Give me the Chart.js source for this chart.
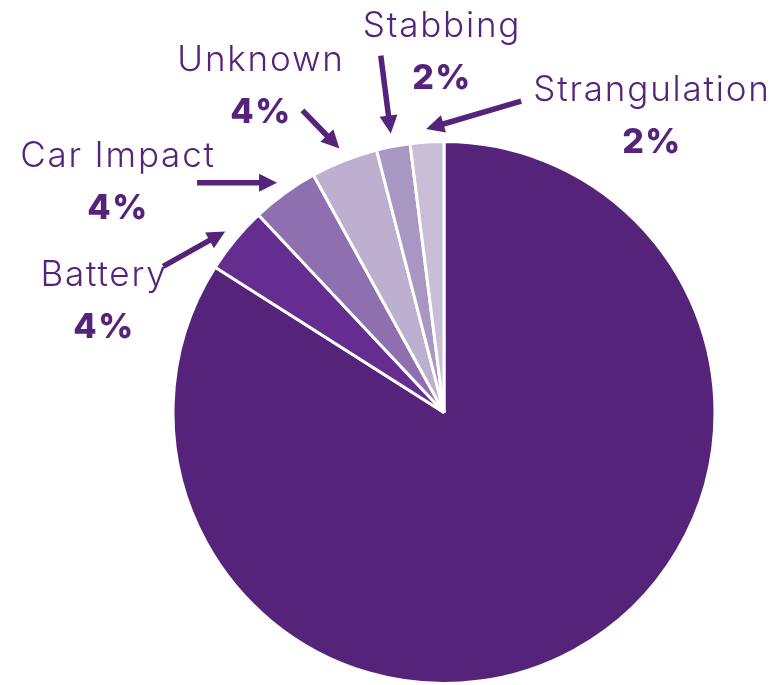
<!DOCTYPE html>
<html>
<head>
<meta charset="utf-8">
<script src="https://cdn.jsdelivr.net/npm/chart.js@4.4.1/dist/chart.umd.min.js"></script>
<style>
  html, body { margin: 0; padding: 0; background: #ffffff; }
  #wrap { width: 772px; height: 685px; }
</style>
</head>
<body>
<div id="wrap"><canvas id="chart"></canvas></div>
<script>
// chart data
var categories = ['Other', 'Battery', 'Car Impact', 'Unknown', 'Stabbing', 'Strangulation'];
var values = [84, 4, 4, 4, 2, 2];
var sliceColors = ['#56237a', '#662d91', '#8e6faf', '#bdafd0', '#a997c3', '#c9bdd8'];

// where the callouts go (offsets from the pie centre), and arrow tails (from tip)
var calloutLayout = {
    'Battery':       { text: [-341, -137], tail: [-62, 35] },
    'Car Impact':    { text: [-327, -256], tail: [-80, 0] },
    'Unknown':       { text: [-184, -352], tail: [-37, -38] },
    'Stabbing':      { text: [-3, -386],   tail: [-10, -78] },
    'Strangulation': { text: [207, -322],  tail: [95, -28] }
};

var textColor = '#56237a';

function drawArrow(ctx, x1, y1, x2, y2) {
    var ang = Math.atan2(y2 - y1, x2 - x1);
    var head = 18, half = 9;
    var bx = x2 - head * Math.cos(ang), by = y2 - head * Math.sin(ang);
    ctx.beginPath();
    ctx.moveTo(x1, y1);
    ctx.lineTo(bx + 1 * Math.cos(ang), by + 1 * Math.sin(ang));
    ctx.stroke();
    ctx.beginPath();
    ctx.moveTo(x2, y2);
    ctx.lineTo(bx + half * Math.sin(ang), by - half * Math.cos(ang));
    ctx.lineTo(bx - half * Math.sin(ang), by + half * Math.cos(ang));
    ctx.closePath();
    ctx.fill();
}

var calloutPlugin = {
    id: 'callouts',
    afterDraw: function(chart) {
        var ctx = chart.ctx;
        var meta = chart.getDatasetMeta(0);
        ctx.save();
        ctx.fillStyle = textColor;
        ctx.strokeStyle = textColor;
        ctx.lineWidth = 5.5;
        ctx.textAlign = 'center';
        ctx.textBaseline = 'middle';
        meta.data.forEach(function(arc, i) {
            var lay = calloutLayout[categories[i]];
            if (!lay) return;
            var cx = arc.x, cy = arc.y;
            var mid = (arc.startAngle + arc.endAngle) / 2;
            var r = arc.outerRadius + 13;
            var tx = cx + r * Math.cos(mid), ty = cy + r * Math.sin(mid);
            drawArrow(ctx, tx + lay.tail[0], ty + lay.tail[1], tx, ty);

            ctx.letterSpacing = '1.8px';
            ctx.font = '300 35px Inter';
            ctx.fillText(categories[i], cx + lay.text[0] + 1, cy + lay.text[1]);
            ctx.letterSpacing = '1.5px';
            ctx.font = '800 34px Inter';
            ctx.fillText(values[i] + '%', cx + lay.text[0] + 1, cy + lay.text[1] + 52);
        });
        ctx.restore();
    }
};

var ctx = document.getElementById('chart');

var pieChart = new Chart(ctx, {
    type: 'pie',
    data: {
        labels: categories,
        datasets: [{
            data: values,
            backgroundColor: sliceColors,
            borderColor: '#ffffff',
            borderWidth: 3,
            hoverOffset: 0
        }]
    },
    options: {
        responsive: true,
        maintainAspectRatio: false,
        animation: false,
        layout: { padding: { left: 170, right: 54, top: 140, bottom: 0 } },
        plugins: {
            legend: { display: false },
            tooltip: { enabled: false }
        }
    },
    plugins: [calloutPlugin]
});
</script>
</body>
</html>
